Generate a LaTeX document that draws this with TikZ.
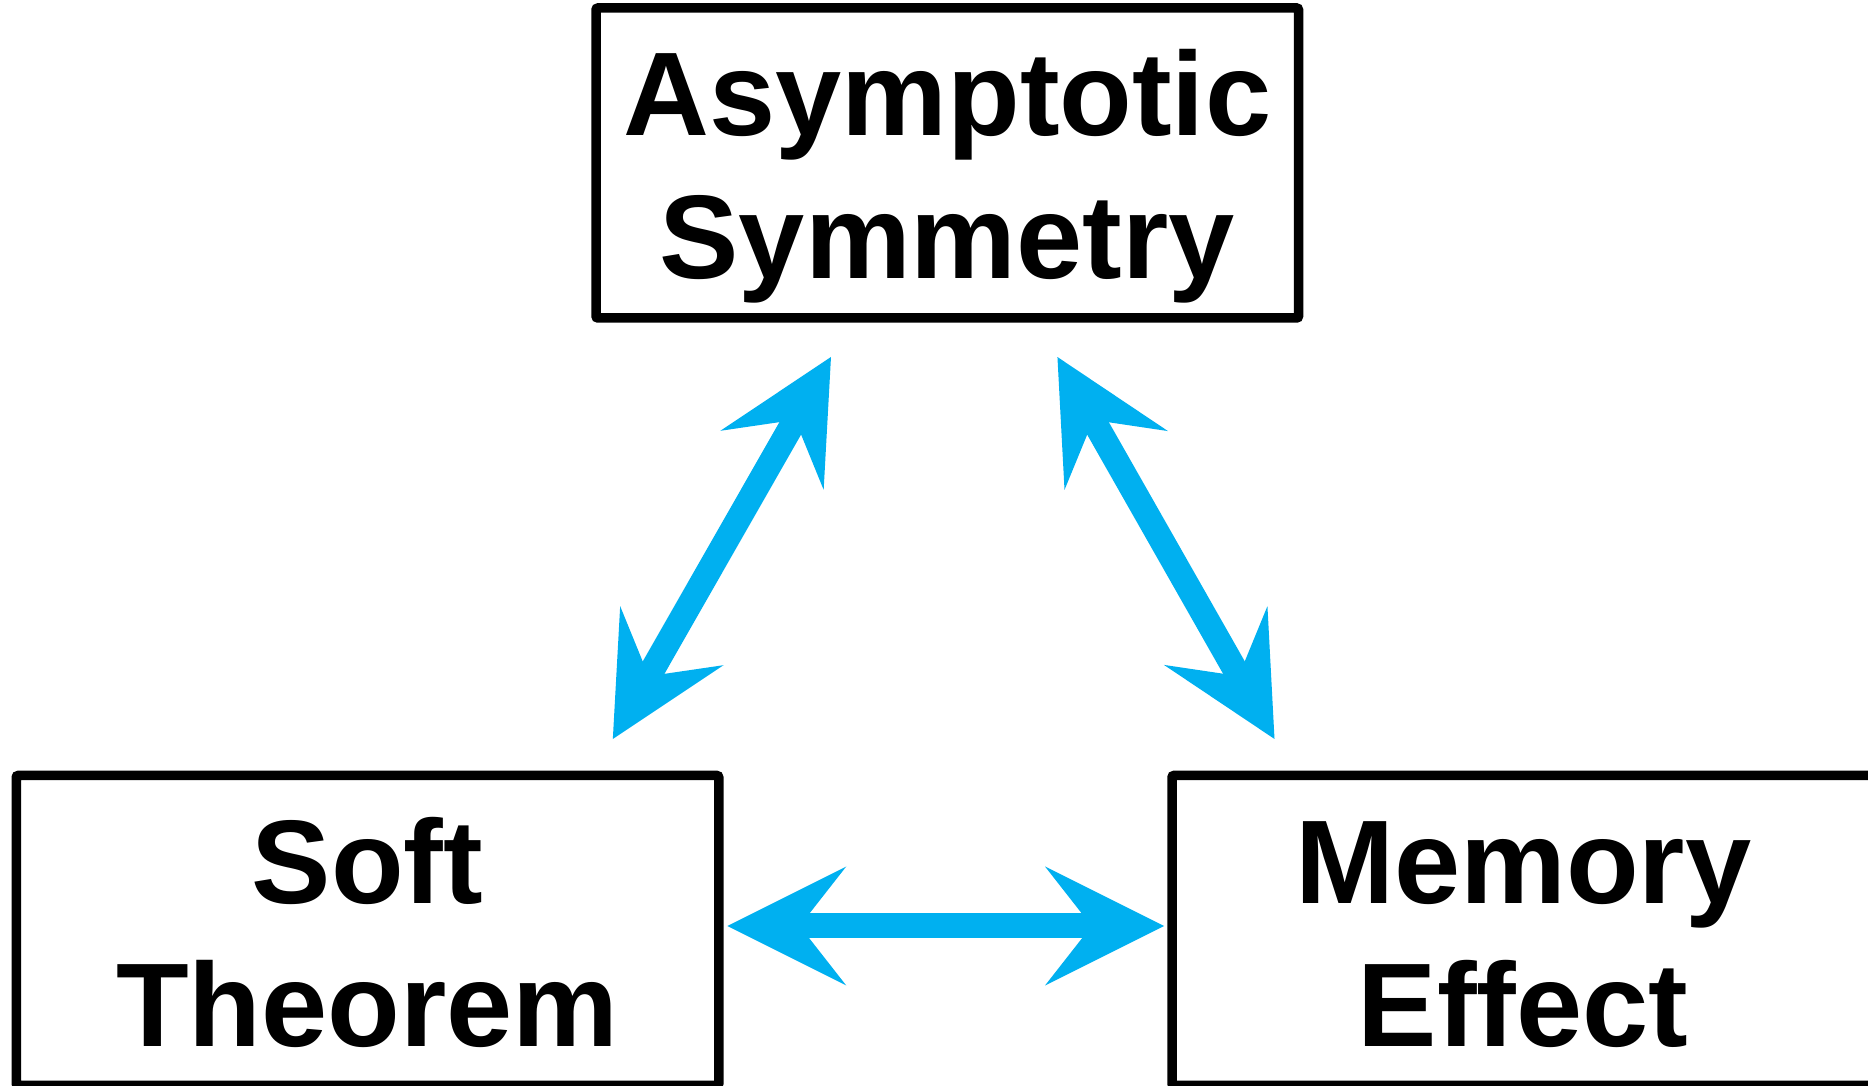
\documentclass[tikz,border=0pt]{standalone}
\usepackage{fontspec}
\setmainfont{Liberation Sans}
\usetikzlibrary{arrows.meta}
\definecolor{arrowcyan}{RGB}{0,176,240}
\begin{document}
\begin{tikzpicture}[x=1pt,y=1pt,
  box/.style={draw=black, line width=9.5pt, rounded corners=2pt,
    minimum width=702.5pt, minimum height=310pt, inner sep=0pt, outer sep=0pt,
    align=center, font=\bfseries\fontsize{119}{143}\selectfont},
  biarrow/.style={draw=arrowcyan, line width=25pt,
    {Stealth[length=119pt,width=119pt,inset=46.6pt,line width=0pt]}-{Stealth[length=119pt,width=119pt,inset=46.6pt,line width=0pt]}}]
\useasboundingbox (0,0) rectangle (1868,1086);
\fill[white] (0,0) rectangle (1868,1086);

\node[box] (sym) at (947.25,923) {\rule{0pt}{114pt}Asymptotic\\Symmetry\rule[-25pt]{0pt}{25pt}};
\node[box] (soft) at (367.5,155.5) {\rule{0pt}{114pt}Soft\\Theorem\rule[-25pt]{0pt}{25pt}};
\node[box] (mem) at (1523.25,155.5) {\rule{0pt}{114pt}Memory\\Effect\rule[-25pt]{0pt}{25pt}};

\draw[biarrow, shorten <=44.9pt, shorten >=42pt] ([xshift=-94pt]sym.south) -- ([xshift=224.5pt]soft.north);
\draw[biarrow, shorten <=44.9pt, shorten >=42pt] ([xshift=88pt]sym.south) -- ([xshift=-228pt]mem.north);
\draw[biarrow, shorten <=8.5pt, shorten >=8pt] ([yshift=4.5pt]soft.east) -- ([yshift=4.5pt]mem.west);
\end{tikzpicture}
\end{document}
